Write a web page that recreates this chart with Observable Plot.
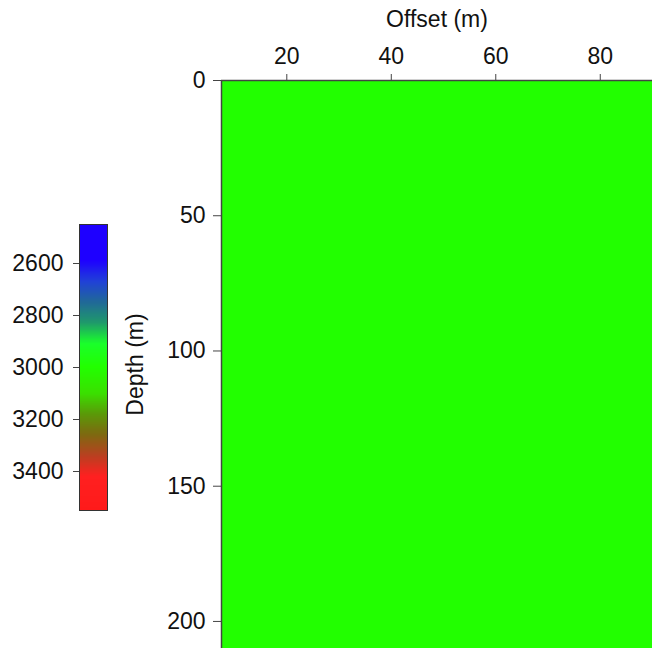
<!DOCTYPE html>
<html>
<head>
<meta charset="utf-8">
<script src="https://cdn.jsdelivr.net/npm/d3@7"></script>
<script src="https://cdn.jsdelivr.net/npm/@observablehq/plot@0.6"></script>
<style>
  html, body { margin: 0; padding: 0; background: #fff; }
  #chart { position: relative; width: 666px; height: 648px; overflow: hidden; }
  #chart svg { position: absolute; top: 0; left: 0; }
</style>
</head>
<body>
<div id="chart"></div>
<script>
// ---- data ----
const offsetDomain = [7.5, 90];          // Offset (m) extent of the section
const depthDomain = [0, 210];            // Depth (m) extent shown
const offsetTicks = [20, 40, 60, 80];
const depthTicks = [0, 50, 100, 150, 200];
const fieldValue = 3000;                 // uniform value filling the section
const colorbarDomain = [2450, 3550];
const colorbarTicks = [2600, 2800, 3000, 3200, 3400];
const colorStops = [2450, 2590, 2670, 2750, 2830, 2910, 3000, 3100, 3180, 3260, 3340, 3420, 3550];
const colorRange = ["#1e00ff", "#1e00ff", "#2040d8", "#206898", "#1f9a6a", "#1aff2a", "#22ff00",
                    "#3ae000", "#5a9a08", "#7e6810", "#b84020", "#ff2020", "#ff1a1a"];

const font = "'Liberation Sans', Arial, Helvetica, sans-serif";
const fs = 23;
const colorScale = {type: "linear", domain: colorStops, range: colorRange, interpolate: "rgb"};
const fmt = d => String(d);

const field = [{x1: offsetDomain[0], x2: offsetDomain[1], y1: depthDomain[0], y2: depthDomain[1], v: fieldValue}];

const main = Plot.plot({
  width: 666, height: 648,
  marginLeft: 221, marginRight: 14, marginTop: 80, marginBottom: 0,
  style: {fontSize: fs + "px", fontFamily: font, color: "#111", background: "white", overflow: "visible"},
  x: {domain: offsetDomain},
  y: {domain: depthDomain, reverse: true},
  color: colorScale,
  marks: [
    Plot.rect(field, {x1: "x1", x2: "x2", y1: "y1", y2: "y2", fill: "v"}),
    Plot.ruleY([depthDomain[0]], {stroke: "#444", strokeWidth: 1.5}),
    Plot.ruleX([offsetDomain[0]], {stroke: "#444", strokeWidth: 1.5}),
    Plot.axisX({anchor: "top", ticks: offsetTicks, tickFormat: fmt, tickSize: 7, tickPadding: 10, fontSize: fs,
      label: "Offset (m)", labelAnchor: "center", labelArrow: "none", labelOffset: 70, stroke: "#444"}),
    Plot.axisY({anchor: "left", ticks: depthTicks, tickFormat: fmt, tickSize: 8, tickPadding: 8, fontSize: fs,
      label: "Depth (m)", labelAnchor: "center", labelArrow: "none", labelOffset: 95, stroke: "#444"})
  ]
});

const rampStep = 2;
const ramp = d3.range(colorbarDomain[0], colorbarDomain[1], rampStep);

const bar = Plot.plot({
  width: 120, height: 648,
  marginLeft: 79, marginRight: 13, marginTop: 224, marginBottom: 138,
  style: {fontSize: fs + "px", fontFamily: font, color: "#111", background: "transparent", overflow: "visible"},
  x: {axis: null},
  y: {domain: colorbarDomain, reverse: true},
  color: colorScale,
  marks: [
    Plot.rect(ramp, {y1: d => d, y2: d => Math.min(d + rampStep + 0.5, colorbarDomain[1]), fill: d => d + rampStep / 2, shapeRendering: "crispEdges"}),
    Plot.frame({stroke: "#333", strokeWidth: 1}),
    Plot.axisY({anchor: "left", ticks: colorbarTicks, tickFormat: fmt, tickSize: 6, tickPadding: 10, fontSize: fs, label: null, stroke: "#444"})
  ]
});

const chart = document.getElementById("chart");
chart.appendChild(main);
chart.appendChild(bar);
</script>
</body>
</html>
